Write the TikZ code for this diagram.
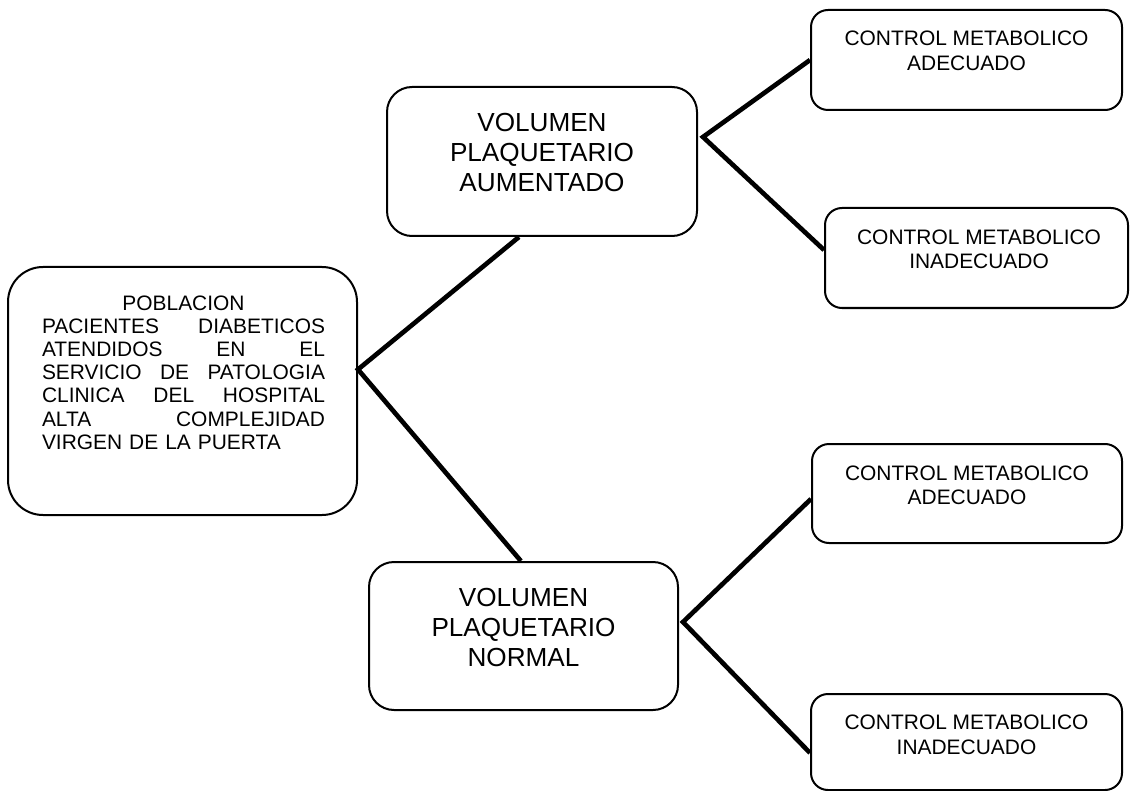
\documentclass[tikz,border=0pt]{standalone}
\usepackage{fontspec}
\setmainfont{Liberation Sans}

\tikzset{every picture/.style={line width=0.75pt}}
\tikzset{
  caja/.style={draw, line width=1.5pt, rounded corners=#1, inner sep=0pt},
  caja/.default=12.75pt,
  rama/.style={line width=3.5pt},
  txtgrande/.style={align=center, inner sep=0pt, font=\fontsize{19.6}{22.5}\selectfont},
  txtchico/.style={align=center, inner sep=0pt, font=\fontsize{15.7}{18.4}\selectfont},
}

\begin{document}
\begin{tikzpicture}[x=0.75pt,y=0.75pt,yscale=-1,xscale=1]
		\useasboundingbox (0,0) rectangle (1130,791);
		
		%Rounded Rect: poblacion
		\node [caja=26.25pt, minimum width=261.75pt, minimum height=186pt] (pob) at (182.5,391) {};
		%Rounded Rect: volumen aumentado
		\node [caja=18.75pt, minimum width=232.5pt, minimum height=111.75pt] (vpa) at (542,161.5) {};
		%Rounded Rect: volumen normal
		\node [caja=18.75pt, minimum width=231.75pt, minimum height=111pt] (vpn) at (523.5,636) {};
		%Rounded Rect: control metabolico
		\node [caja, minimum width=233.25pt, minimum height=75pt] (cma1) at (966.5,60) {};
		\node [caja, minimum width=227.25pt, minimum height=75pt] (cmi1) at (976.5,258) {};
		\node [caja, minimum width=232.5pt, minimum height=74.25pt] (cma2) at (967,493.5) {};
		\node [caja, minimum width=233.25pt, minimum height=72pt] (cmi2) at (966.5,742) {};
		
		%Straight Lines
		\coordinate (j0) at (pob.7);
		\coordinate (j1) at (703,137);
		\coordinate (j2) at (683,622);
		\draw [rama] (vpa.253) -- (j0) -- (vpn.92) ;
		\draw [rama] (cma1.west) -- (j1) -- (cmi1.177) ;
		\draw [rama] (cma2.182) -- (j2) -- (cmi2.184) ;
		
		% Text Node
		\node [txtchico, font=\fontsize{15.7}{17.4}\selectfont, text width=212.25pt, align=left] (tpob) at ([xshift=0.75pt,yshift=-13.9pt]pob.center) {\hfill POBLACION\hfill\null\\ PACIENTES\hfill DIABETICOS\\ ATENDIDOS\hfill EN\hfill EL\\ SERVICIO\hfill DE\hfill PATOLOGIA\\ CLINICA\hfill DEL\hfill HOSPITAL\\ ALTA\hfill COMPLEJIDAD\\ VIRGEN DE LA PUERTA};
		% Text Node
		\node [txtgrande] (tvpa) at ([yshift=-6.75pt]vpa.center) {VOLUMEN\\ PLAQUETARIO\\ AUMENTADO};
		% Text Node
		\node [txtgrande] (tvpn) at ([yshift=-6.4pt]vpn.center) {VOLUMEN\\ PLAQUETARIO\\ NORMAL};
		% Text Node
		\node [txtchico] (tcma1) at ([yshift=-6.75pt]cma1.center) {CONTROL METABOLICO\\ ADECUADO};
		% Text Node
		\node [txtchico] (tcmi1) at ([xshift=1.9pt,yshift=-6.4pt]cmi1.center) {CONTROL METABOLICO\\ INADECUADO};
		% Text Node
		\node [txtchico] (tcma2) at ([yshift=-6pt]cma2.center) {CONTROL METABOLICO\\ ADECUADO};
		% Text Node
		\node [txtchico] (tcmi2) at ([yshift=-5.6pt]cmi2.center) {CONTROL METABOLICO\\ INADECUADO};
		
\end{tikzpicture}
\end{document}
